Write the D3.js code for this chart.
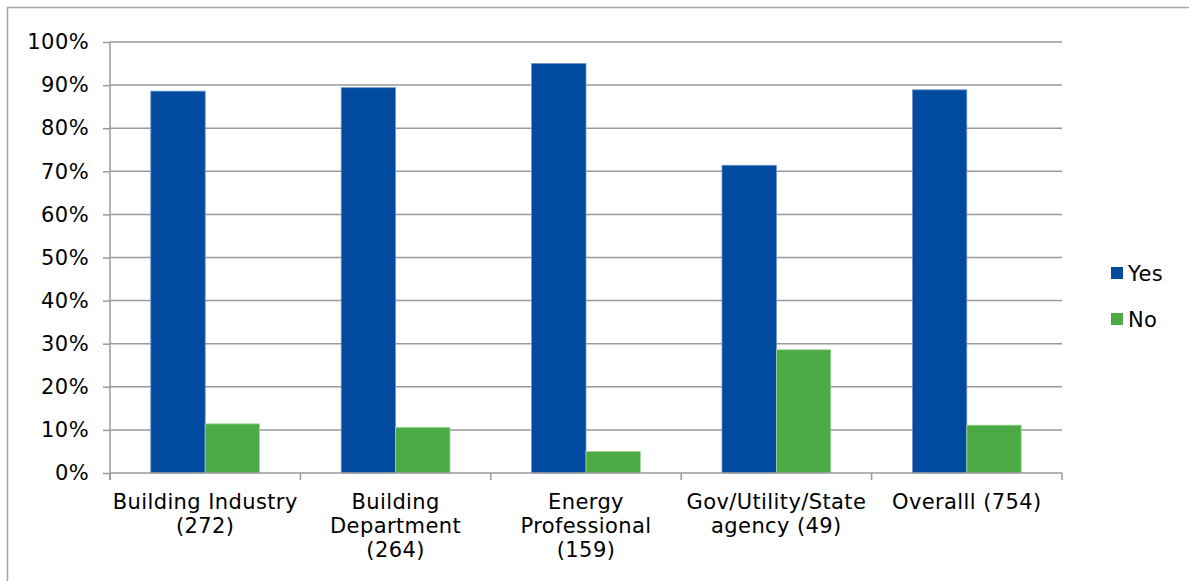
<!DOCTYPE html>
<html>
<head>
<meta charset="utf-8">
<script src="https://cdn.jsdelivr.net/npm/d3@7"></script>
<style>
  html, body { margin: 0; padding: 0; background: #fff; }
  svg { display: block; font-family: "DejaVu Sans", Verdana, sans-serif; }
  text { letter-spacing: 0.4px; }
</style>
</head>
<body>
<svg id="chart" width="1189" height="581"></svg>
<script>
// Survey response shares by respondent group
const categories = [
  ["Building Industry", "(272)"],
  ["Building", "Department", "(264)"],
  ["Energy", "Professional", "(159)"],
  ["Gov/Utility/State", "agency (49)"],
  ["Overalll (754)"]
];
const yesValues = [88.6, 89.4, 95.0, 71.4, 88.9];
const noValues  = [11.4, 10.6, 5.0, 28.6, 11.1];
const seriesNames = ["Yes", "No"];
const seriesColors = ["#004A9F", "#4BAA44"];
const yTicks = [0, 10, 20, 30, 40, 50, 60, 70, 80, 90, 100];

const svg = d3.select("#chart");
const margin = { left: 110, right: 1062, top: 42, bottom: 473 };
const gridColor = "#9a9a9a";
const fontSize = 21;

// outer chart frame (top and left edges visible)
svg.append("path")
  .attr("d", "M7.5,581 L7.5,7.5 L1189,7.5")
  .attr("fill", "none").attr("stroke", "#a6a6a6").attr("stroke-width", 1.5);

const x = d3.scaleBand()
  .domain(d3.range(categories.length))
  .range([margin.left, margin.right])
  .paddingInner(0).paddingOuter(0);

// gap width 150% of a bar: two bars plus 1.5 bar widths per category
const bw = x.bandwidth() / 3.5;
const x1 = d3.scaleBand().domain(seriesNames)
  .range([bw * 0.75, bw * 2.75]);

const y = d3.scaleLinear().domain([0, 100]).range([margin.bottom, margin.top]);

// horizontal gridlines
svg.append("g")
  .selectAll("line").data(yTicks.filter(d => d > 0)).join("line")
  .attr("x1", margin.left).attr("x2", margin.right)
  .attr("y1", d => y(d)).attr("y2", d => y(d))
  .attr("stroke", gridColor).attr("stroke-width", 1.5);

// y axis
const yAxis = svg.append("g")
  .attr("transform", `translate(${margin.left},0)`)
  .call(d3.axisLeft(y).tickValues(yTicks).tickFormat(d => d + "%").tickSize(7).tickPadding(14));
yAxis.select(".domain").attr("stroke", gridColor).attr("stroke-width", 1.5)
  .attr("d", `M0,${margin.top}V${margin.bottom + 7}`);
yAxis.selectAll(".tick line").attr("stroke", gridColor).attr("stroke-width", 1.5);
yAxis.selectAll(".tick text").attr("font-size", fontSize).attr("fill", "#000")
  .attr("font-family", "DejaVu Sans, Verdana, sans-serif");

// bars
const data = categories.map((c, i) => ({ i, vals: [yesValues[i], noValues[i]] }));
const groups = svg.append("g").selectAll("g").data(data).join("g")
  .attr("transform", d => `translate(${x(d.i)},0)`);
groups.selectAll("rect")
  .data(d => d.vals.map((v, k) => ({ key: seriesNames[k], v, k })))
  .join("rect")
  .attr("x", d => x1(d.key))
  .attr("width", x1.bandwidth())
  .attr("y", d => y(d.v))
  .attr("height", d => y(0) - y(d.v))
  .attr("fill", d => seriesColors[d.k])
  .attr("stroke", d => d.k === 0 ? "#6f93c6" : "#a9d6a4")
  .attr("stroke-width", 0.8);

// x axis with category boundary ticks
const xAxis = svg.append("g");
xAxis.append("line")
  .attr("x1", margin.left).attr("x2", margin.right)
  .attr("y1", y(0)).attr("y2", y(0))
  .attr("stroke", gridColor).attr("stroke-width", 1.5);
xAxis.selectAll("line.tk")
  .data(d3.range(categories.length + 1)).join("line").attr("class", "tk")
  .attr("x1", d => margin.left + d * x.step()).attr("x2", d => margin.left + d * x.step())
  .attr("y1", y(0)).attr("y2", y(0) + 7)
  .attr("stroke", gridColor).attr("stroke-width", 1.5);

const labels = xAxis.selectAll("text.cat").data(categories).join("text")
  .attr("class", "cat")
  .attr("text-anchor", "middle")
  .attr("font-size", fontSize)
  .attr("fill", "#000")
  .attr("x", (d, i) => x(i) + x.bandwidth() / 2)
  .attr("y", 509);
labels.selectAll("tspan").data(d => d).join("tspan")
  .attr("x", function () { return d3.select(this.parentNode).attr("x"); })
  .attr("dy", (d, i) => i === 0 ? 0 : 24)
  .text(d => d);

// legend
const legend = svg.append("g").selectAll("g").data(seriesNames).join("g")
  .attr("transform", (d, i) => `translate(1111,${267 + i * 46})`);
legend.append("rect").attr("width", 12).attr("height", 12)
  .attr("fill", (d, i) => seriesColors[i]);
legend.append("text").attr("x", 17).attr("y", 6).attr("dy", "0.36em")
  .attr("font-size", fontSize).attr("fill", "#000").text(d => d);
</script>
</body>
</html>
